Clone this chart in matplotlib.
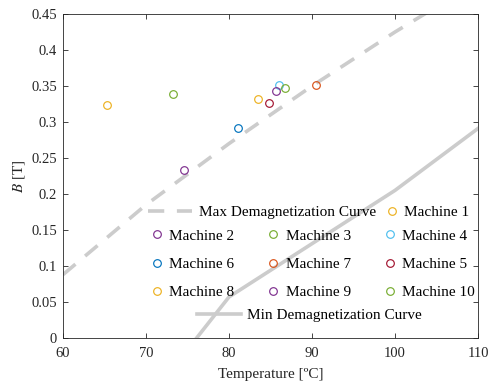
import numpy as np
import matplotlib; matplotlib.use('Agg')
import matplotlib.pyplot as plt
from matplotlib.ticker import FormatStrFormatter

plt.rcParams['font.family'] = ['Liberation Serif', 'DejaVu Serif']
plt.rcParams['mathtext.fontset'] = 'stix'

# demagnetization curves
max_T = [60, 70, 80, 90, 100, 110]
max_B = [0.088, 0.185, 0.270, 0.350, 0.425, 0.495]
min_T = [76.1, 80, 100, 110]
min_B = [0.0, 0.057, 0.205, 0.291]

# machine operating points
machines = ['Machine 1', 'Machine 2', 'Machine 3', 'Machine 4', 'Machine 6',
            'Machine 7', 'Machine 5', 'Machine 8', 'Machine 9', 'Machine 10']
mach_T = [65.3, 74.6, 73.2, 86.0, 81.1, 90.5, 84.8, 83.5, 85.7, 86.8]
mach_B = [0.323, 0.233, 0.339, 0.351, 0.292, 0.351, 0.327, 0.332, 0.343, 0.347]
mach_col = ['#EDB120', '#7E2F8E', '#77AC30', '#4DBEEE', '#0072BD',
            '#D95319', '#A2142F', '#EDB120', '#7E2F8E', '#77AC30']

GRAY = '#CCCCCC'
fig = plt.figure(figsize=(4.88, 3.89), dpi=100)
ax = fig.add_axes([63/488, 1-338/389, 415/488, 324/389])

h_max, = ax.plot(max_T, max_B, color=GRAY, lw=2.6, ls=(0, (4.5, 3.5)), label='Max Demagnetization Curve')
h_min, = ax.plot(min_T, min_B, color=GRAY, lw=2.6, label='Min Demagnetization Curve')
h_m = []
for t, b, c, n in zip(mach_T, mach_B, mach_col, machines):
    h, = ax.plot(t, b, 'o', mfc='none', mec=c, ms=5.5, mew=0.85, ls='none', label=n)
    h_m.append(h)

ax.set_xlim(60, 110); ax.set_ylim(0, 0.45)
ax.set_xticks(np.arange(60, 111, 10)); ax.set_yticks(np.arange(0, 0.451, 0.05))
ax.yaxis.set_major_formatter(FormatStrFormatter('%g'))
ax.tick_params(direction='in', top=True, right=True, length=3.5, width=0.6, labelsize=10.5,
               colors='#262626', pad=4.5)
ax.tick_params(axis='x', pad=6.5)
for s in ax.spines.values():
    s.set_linewidth(0.6); s.set_color('#262626')
ax.set_xlabel('Temperature [ºC]', fontsize=11, color='#262626', labelpad=6)
ax.set_ylabel('$B$ [T]', fontsize=11, color='#262626', labelpad=3)

kw = dict(frameon=False, fontsize=11, borderpad=0, borderaxespad=0, loc='center left')
def tx(px): return (px-63)/415
def ty(py): return (338-py)/324

l1 = ax.legend([h_max], ['Max Demagnetization Curve'], handlelength=2.9, handletextpad=0.45,
               bbox_to_anchor=(tx(148), ty(212)), **kw)
ax.add_artist(l1)
l2 = ax.legend([h_m[0]], [machines[0]], handlelength=0.8, handletextpad=0.4,
               bbox_to_anchor=(tx(386), ty(212)), **kw)
ax.add_artist(l2)
# three rows, filled row by row
order = [1, 4, 7, 2, 5, 8, 3, 6, 9]
l3 = ax.legend([h_m[i] for i in order], [machines[i] for i in order], ncol=3, handlelength=0.8,
               handletextpad=0.4, columnspacing=2.15, labelspacing=0.95,
               bbox_to_anchor=(tx(151), ty(264)), **kw)
ax.add_artist(l3)
ax.legend([h_min], ['Min Demagnetization Curve'], handlelength=2.9, handletextpad=0.4,
          bbox_to_anchor=(tx(197), ty(315)), **kw)

plt.savefig('out.png', dpi=100)
plt.close()
